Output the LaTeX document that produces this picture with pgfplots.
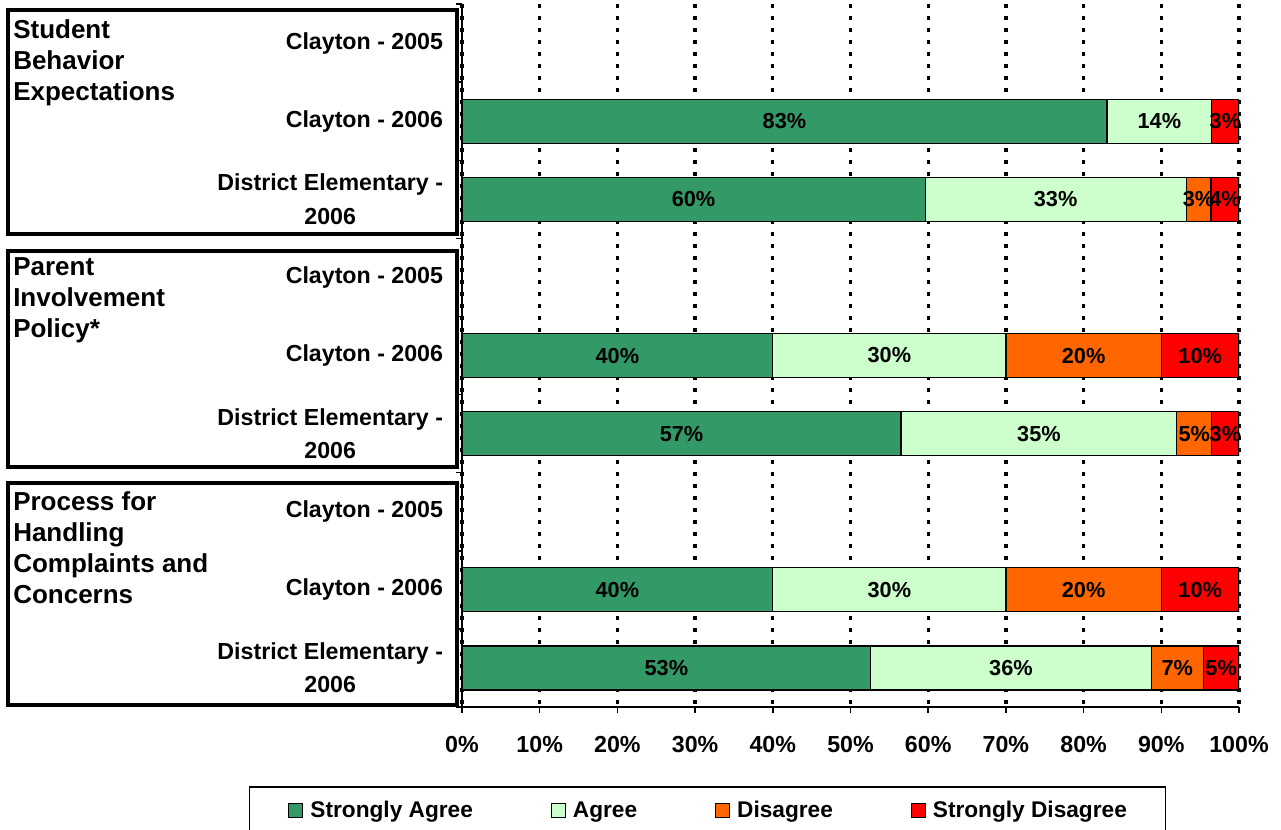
\documentclass[border=0pt]{standalone}
\usepackage{fontspec}
\setmainfont{Liberation Sans}
\usepackage{pgfplots}
\pgfplotsset{compat=1.18}
\usepackage{pgfplotstable}

\definecolor{sagree}{HTML}{339966}
\definecolor{agree}{HTML}{CCFFCC}
\definecolor{dis}{HTML}{FF6600}
\definecolor{sdis}{HTML}{FF0000}

\newcommand{\grpfont}{\fontsize{19.5pt}{23.25pt}\selectfont\bfseries}
\newcommand{\tickfont}{\fontsize{17.4pt}{25pt}\selectfont\bfseries}
\newcommand{\barfont}{\fontsize{16.3pt}{19pt}\selectfont\bfseries}
\newcommand{\legfont}{\fontsize{17pt}{19pt}\selectfont\bfseries}

% shares per row (rows 0, 3, 6 = Clayton 2005, no data)
\pgfplotstableread{
y sa a d sd
1 83.0 13.5 0 3.5
2 59.6 33.6 3.2 3.6
4 40 30 20 10
5 56.5 35.5 4.5 3.5
7 40 30 20 10
8 52.6 36.1 6.7 4.6
}\shares

% axis box: x 462..1239 px, y 4..707 px (1px = 0.75pt)
\pgfplotsset{
  samegeom/.style={
    at={(346.5pt,-530.25pt)}, anchor=south west,
    scale only axis, width=582.75pt, height=527.25pt,
    xmin=0, xmax=100, ymin=-0.5, ymax=8.5, y dir=reverse,
  },
}

\begin{document}
\bfseries
\begin{tikzpicture}[x=0.75pt,y=-0.75pt]
\useasboundingbox (0,0) rectangle (1281,829);

% group frames and titles
\draw[line width=2.6pt] (8,10) rectangle (457,234);
\draw[line width=2.6pt] (8,251) rectangle (457,467);
\draw[line width=2.6pt] (8,483) rectangle (457,705);
\node[anchor=north west, inner sep=0pt, align=left, font=\grpfont] at (13,19) {Student\\Behavior\\Expectations};
\node[anchor=north west, inner sep=0pt, align=left, font=\grpfont] at (13,257) {Parent\\Involvement\\Policy*};
\node[anchor=north west, inner sep=0pt, align=left, font=\grpfont] at (13,491) {Process for\\Handling\\Complaints and\\Concerns};

\begin{axis}[samegeom,
  xbar stacked, bar width=33pt,
  axis x line*=bottom, axis y line*=left,
  axis line style={line width=1.1pt},
  tick align=outside, major tick length=4.5pt,
  every tick/.style={black, line width=1.1pt},
  xtick={0,10,...,100},
  xticklabels={0\%,10\%,20\%,30\%,40\%,50\%,60\%,70\%,80\%,90\%,100\%},
  xticklabel style={font=\tickfont, anchor=north, inner sep=0pt, yshift=-17.5pt},
  xmajorgrids,
  major grid style={black, line width=2.5pt, dash pattern=on 3pt off 6pt},
  ytick={0,...,8},
  yticklabels={Clayton - 2005, Clayton - 2006, {District Elementary -\\2006},
               Clayton - 2005, Clayton - 2006, {District Elementary -\\2006},
               Clayton - 2005, Clayton - 2006, {District Elementary -\\2006}},
  yticklabel style={font=\tickfont, align=center, anchor=east, inner sep=0pt, xshift=-9.5pt},
  ytick style={draw=none},
  extra y ticks={-0.5,0.5,...,8.5},
  extra y tick labels={},
  extra y tick style={ytick style={draw=black, line width=1.1pt}},
  legend columns=4,
  legend image code/.code={\draw[#1, line width=0.75pt] (0pt,-5.25pt) rectangle (10.5pt,5.25pt);},
  legend style={at={(-0.2741,-0.1124)}, anchor=north west,
    draw=black, line width=1.1pt, font=\legfont,
    inner xsep=29pt, inner ysep=11pt,
    nodes={inner sep=0pt, anchor=west},
    /tikz/every odd column/.append style={column sep=5.25pt},
    /tikz/every even column/.append style={column sep=58.5pt}},
]
\addplot[fill=sagree, draw=black, line width=0.9pt] table[x=sa, y=y] {\shares};
\addplot[fill=agree,  draw=black, line width=0.9pt] table[x=a,  y=y] {\shares};
\addplot[fill=dis,    draw=black, line width=0.9pt] table[x=d,  y=y] {\shares};
\addplot[fill=sdis,   draw=black, line width=0.9pt] table[x=sd, y=y] {\shares};
\legend{Strongly Agree, Agree, Disagree, Strongly Disagree}
\end{axis}

% value labels, centred in each segment
\begin{axis}[samegeom, hide axis]
\addplot[only marks, mark=none, nodes near coords, point meta=explicit symbolic,
  every node near coord/.append style={anchor=center, font=\barfont, inner sep=0pt}]
coordinates {
  (41.5,1) [83\%] (89.75,1) [14\%] (98.25,1) [3\%]
  (29.8,2) [60\%] (76.4,2) [33\%] (94.8,2) [3\%] (98.2,2) [4\%]
  (20,4) [40\%] (55,4) [30\%] (80,4) [20\%] (95,4) [10\%]
  (28.25,5) [57\%] (74.25,5) [35\%] (94.25,5) [5\%] (98.25,5) [3\%]
  (20,7) [40\%] (55,7) [30\%] (80,7) [20\%] (95,7) [10\%]
  (26.3,8) [53\%] (70.65,8) [36\%] (92.05,8) [7\%] (97.7,8) [5\%]
};
\end{axis}
\end{tikzpicture}
\end{document}
